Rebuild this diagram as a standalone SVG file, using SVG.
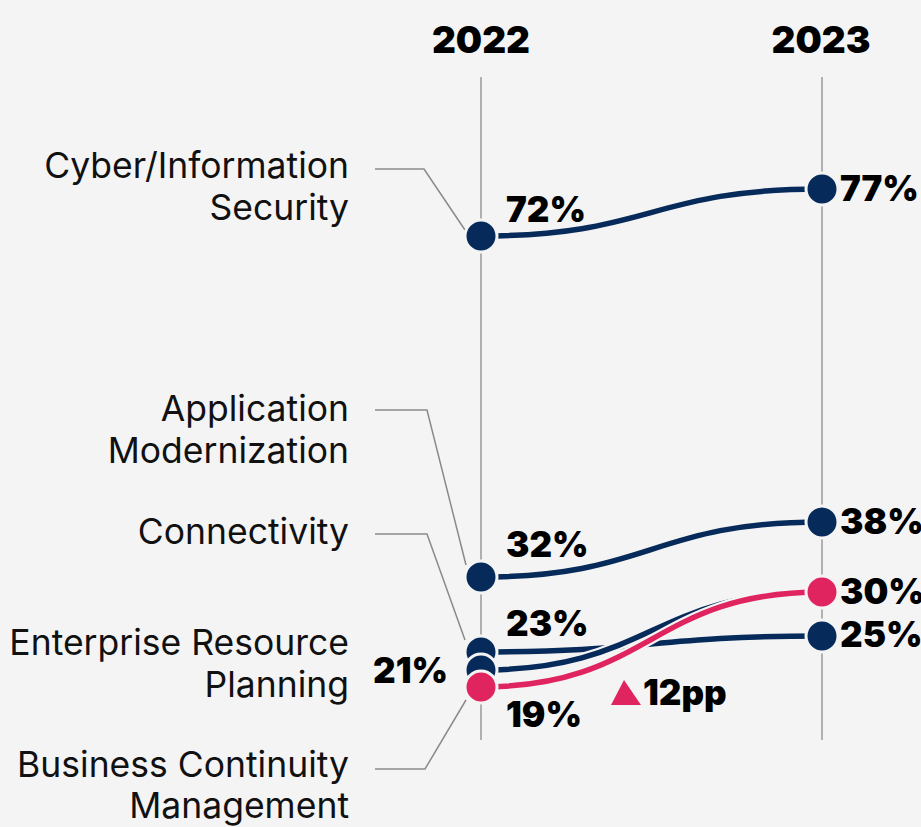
<svg xmlns="http://www.w3.org/2000/svg" width="921" height="827" viewBox="0 0 921 827">
<style>
.lbl{font-family:Inter,"Liberation Sans",sans-serif;font-size:35.5px;fill:#111;text-anchor:end}
.num{font-family:Inter,"Liberation Sans",sans-serif;font-size:35px;font-weight:900;fill:#000}
.yr{font-family:Inter,"Liberation Sans",sans-serif;font-size:37px;font-weight:900;fill:#000;text-anchor:middle}
.axis{stroke:#9a9a9a;stroke-width:1.5;fill:none}
.lead{stroke:#8a8a8a;stroke-width:1.5;fill:none}
.halo{stroke:#f4f4f4;stroke-width:10;fill:none}
.navy{stroke:#062a5a;stroke-width:5.5;fill:none}
.pink{stroke:#e0245f;stroke-width:5.5;fill:none}
.dn{fill:#062a5a;stroke:#f4f4f4;stroke-width:3}
.dp{fill:#e0245f;stroke:#f4f4f4;stroke-width:3}
</style>
<rect width="921" height="827" fill="#f4f4f4"/>
<g id="axes">
<text class="yr" x="481" y="53">2022</text>
<text class="yr" x="821" y="53">2023</text>
<line class="axis" x1="481" y1="77" x2="481" y2="740"/>
<line class="axis" x1="822" y1="77" x2="822" y2="740"/>
</g>
<g id="connectors">
<polyline class="lead" points="375,169 424,169 465,230"/>
<polyline class="lead" points="375,410 427,410 466,565"/>
<polyline class="lead" points="375,534 427,534 465,640"/>
<polyline class="lead" points="375,769 425,769 466,700"/>
<path class="halo" d="M481,236 C651,236 651,189 822,189"/>
<path class="navy" d="M481,236 C651,236 651,189 822,189"/>
<path class="halo" d="M481,577 C651,577 651,522 822,522"/>
<path class="navy" d="M481,577 C651,577 651,522 822,522"/>
<path class="halo" d="M481,652 C651,652 651,636 822,636"/>
<path class="navy" d="M481,652 C651,652 651,636 822,636"/>
<path class="halo" d="M481,670 C651,670 651,592 822,592"/>
<path class="navy" d="M481,670 C651,670 651,592 822,592"/>
<path class="halo" d="M481,687 C651,687 651,592 822,592"/>
<path class="pink" d="M481,687 C651,687 651,592 822,592"/>
</g>
<g id="cyber">
<text class="lbl" x="349" y="178">Cyber/Information</text>
<text class="lbl" x="349" y="220">Security</text>
<circle class="dn" cx="481" cy="236" r="16"/>
<circle class="dn" cx="822" cy="189" r="16"/>
<text class="num" x="506" y="222">72%</text>
<text class="num" x="840" y="201">77%</text>
</g>
<g id="appmod">
<text class="lbl" x="349" y="421">Application</text>
<text class="lbl" x="349" y="463">Modernization</text>
<circle class="dn" cx="481" cy="577" r="16"/>
<circle class="dn" cx="822" cy="522" r="16"/>
<text class="num" x="506" y="557">32%</text>
<text class="num" x="840" y="534">38%</text>
</g>
<g id="connectivity">
<text class="lbl" x="349" y="544">Connectivity</text>
<circle class="dn" cx="481" cy="652" r="16"/>
<circle class="dn" cx="822" cy="636" r="16"/>
<text class="num" x="506" y="636">23%</text>
<text class="num" x="840" y="647">25%</text>
</g>
<g id="erp">
<text class="lbl" x="349" y="655">Enterprise Resource</text>
<text class="lbl" x="349" y="697">Planning</text>
<circle class="dn" cx="481" cy="670" r="16"/>
<text class="num" x="373" y="683">21%</text>
</g>
<g id="bcm">
<text class="lbl" x="349" y="777">Business Continuity</text>
<text class="lbl" x="349" y="818">Management</text>
<circle class="dp" cx="481" cy="687" r="16"/>
<circle class="dp" cx="822" cy="592" r="16"/>
<text class="num" x="506" y="727">19%</text>
<text class="num" x="840" y="604">30%</text>
<polygon points="624,680 611,705 641,705" fill="#e0245f"/>
<text class="num" x="643" y="705">12pp</text>
</g>
</svg>
